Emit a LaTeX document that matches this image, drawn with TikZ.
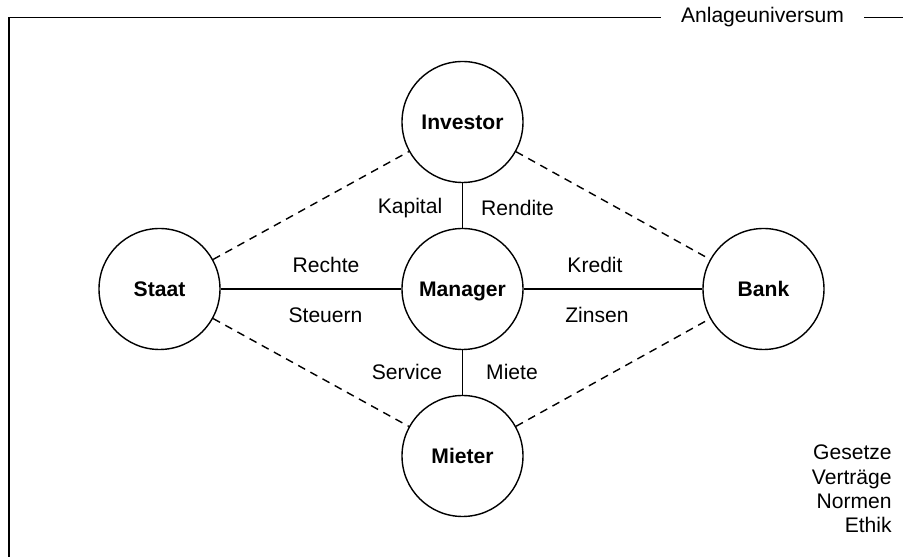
\documentclass[tikz,border=0pt]{standalone}
\usepackage{fontspec}
\setmainfont{Liberation Sans}
\begin{document}
\begin{tikzpicture}[every node/.style={font=\fontsize{12}{13.9}\selectfont},
		party/.style={circle, draw, line width=0.8pt, minimum size=2.42cm, inner sep=0pt, text depth=0pt, font=\fontsize{12}{13.9}\selectfont\bfseries},
		flow/.style={line width=0.8pt},
		tie/.style={line width=0.8pt, dash pattern=on 4.5pt off 3.4pt}]
			\useasboundingbox (0,0) rectangle (18.06,11.14);

			% Rahmen
			\coordinate (fb) at (0.18,0);
			\coordinate (fc) at (0.18,10.79);
			\coordinate (fe) at (18.06,10.79);
			\node[inner xsep=0.4cm, inner ysep=0pt] (univ) at (15.25,10.79) {Anlageuniversum};
			\draw[line width=1.1pt] (fb) -- (fc) -- (univ.west);
			\draw[line width=1.1pt] (univ.east) -- (fe);

			\node[party] (inv) at (9.25,8.70) {Investor};
			\node[party] (man) at (9.25,5.36) {Manager};
			\node[party] (mie) at (9.25,2.02) {Mieter};
			\node[party] (sta) at (3.19,5.36) {Staat};
			\node[party] (bank) at (15.27,5.36) {Bank};

			\draw[flow] (inv) -- (man);
			\draw[flow] (man) -- (mie);
			\draw[flow] (sta) -- (man);
			\draw[flow] (man) -- (bank);

			\draw[tie] (sta) -- (inv);
			\draw[tie] (inv) -- (bank);
			\draw[tie] (sta) -- (mie);
			\draw[tie] (mie) -- (bank);

			\node (kap) at (8.20,6.98) {Kapital};
			\node (ren) at (10.35,6.98) {Rendite};
			\node (rec) at (6.52,5.84) {Rechte};
			\node (ste) at (6.51,4.84) {Steuern};
			\node (kre) at (11.90,5.84) {Kredit};
			\node (zin) at (11.94,4.84) {Zinsen};
			\node (ser) at (8.14,3.70) {Service};
			\node (mit) at (10.24,3.70) {Miete};

			\node[align=right, anchor=east, inner sep=0pt] (rules) at (17.84,1.36) {Gesetze\\Verträge\\Normen\\Ethik};
		\end{tikzpicture}
\end{document}
